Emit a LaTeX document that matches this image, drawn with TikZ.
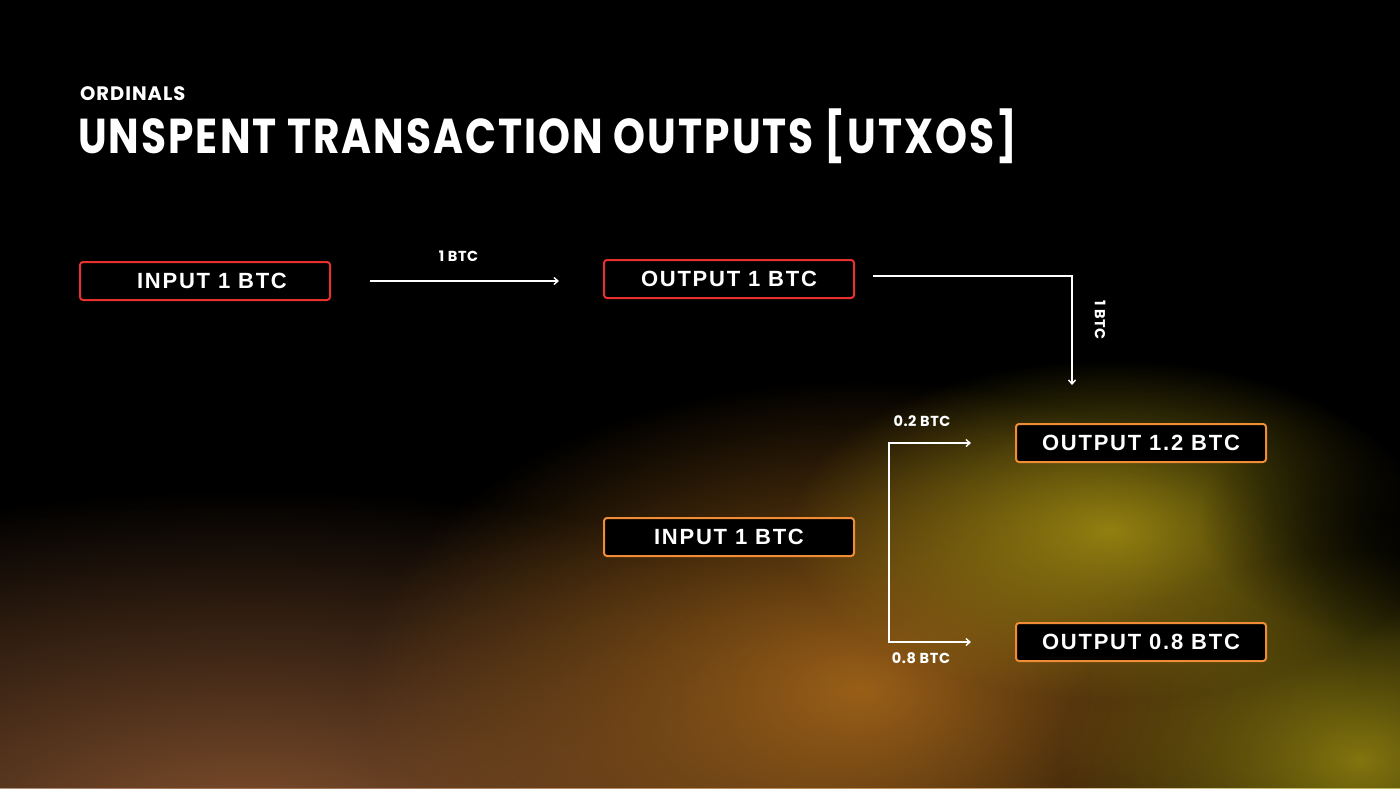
\documentclass[tikz,border=0pt]{standalone}
\usepackage{fontspec}
\setmainfont{Liberation Sans}
\newfontfamily\titlefont{Poppins}[LetterSpace=5]
\newfontfamily\boxfont{Liberation Sans}[LetterSpace=8]
\newfontfamily\labfont{Poppins}[LetterSpace=4]
\usetikzlibrary{arrows.meta,fadings,positioning}
\tikzfading[name=glowfade, inner color=transparent!0, outer color=transparent!100]
\definecolor{redb}{HTML}{E8302E}
\definecolor{orb}{HTML}{F08C36}
\definecolor{glowbrown}{HTML}{8A5530}
\definecolor{gloworange}{HTML}{A8681A}
\definecolor{glowyellow}{HTML}{A49212}
\tikzset{
  box/.style={draw=#1, line width=2pt, fill=black, rounded corners=3pt,
    minimum width=250pt, minimum height=38pt, inner sep=0pt,
    text=white, font=\boxfont\bfseries\fontsize{22}{22}\selectfont},
  conn/.style={draw=white, line width=1.4pt, -{Straight Barb[length=4pt,width=7pt]}},
  lab/.style={text=white, font=\labfont\bfseries\fontsize{14.5}{14.5}\selectfont, inner sep=0pt},
}
\begin{document}
\begin{tikzpicture}[x=1pt,y=-1pt]
\useasboundingbox (0,0) rectangle (1400,788);
\fill[black] (0,0) rectangle (1400,788);
% background glows
\begin{scope}
\clip (0,0) rectangle (1400,788);
\fill[glowbrown, path fading=glowfade, opacity=0.95] (250,830) ellipse (820 and 340);
\fill[gloworange, path fading=glowfade, opacity=0.9] (860,690) ellipse (500 and 310);
\fill[glowyellow, path fading=glowfade, opacity=0.85] (1110,530) ellipse (320 and 170);
\fill[glowyellow, path fading=glowfade, opacity=0.8] (1360,760) ellipse (300 and 210);
\fill[black, path fading=glowfade, opacity=0.75] (1390,520) ellipse (190 and 120);
\end{scope}
% titles
\node[anchor=base west, inner sep=0pt, text=white, font=\titlefont\bfseries\fontsize{19.5}{19.5}\selectfont] (sub) at (80,100) {ORDINALS};
\node[anchor=base west, inner sep=0pt, text=white, font=\titlefont\bfseries\fontsize{49}{49}\selectfont] (title) at (78,153) {\scalebox{0.83}[1]{UNSPENT TRANSACTION OUTPUTS [UTXOS]}};
% boxes
\node[box=redb, text depth=0pt] (in1) at (205,281) {\hspace{14pt}INPUT 1 BTC};
\node[box=redb] (out1) at (729,279) {OUTPUT 1 BTC};
\node[box=orb] (out12) at (1141,443) {OUTPUT 1.2 BTC};
\node[box=orb] (in2) at (729,537) {INPUT 1 BTC};
\node[box=orb] (out08) at (1141,642) {OUTPUT 0.8 BTC};
% connectors
\coordinate (a1) at ([xshift=39pt]in1.east);
\draw[conn] (a1) -- node[lab, above=19pt, xshift=-6pt] (l1) {1 BTC} ([xshift=-44pt]out1.west |- a1);
\coordinate (c1) at ([xshift=57pt,yshift=38pt]out12.north west);
\draw[conn] ([xshift=18pt,yshift=3pt]out1.east) -| (c1);
\node[lab, rotate=-90] (l2) at (1100,320) {1 BTC};
\coordinate (s) at ([xshift=34pt]in2.east);
\draw[conn, {Straight Barb[length=4pt,width=7pt]}-{Straight Barb[length=4pt,width=7pt]}]
  ([xshift=-44pt]out12.west) -- (s |- out12.west) -- (s |- out08.west) -- ([xshift=-44pt]out08.west);
\node[lab] (l3) at (922,421) {0.2 BTC};
\node[lab] (l4) at (921,658) {0.8 BTC};
\end{tikzpicture}
\end{document}
